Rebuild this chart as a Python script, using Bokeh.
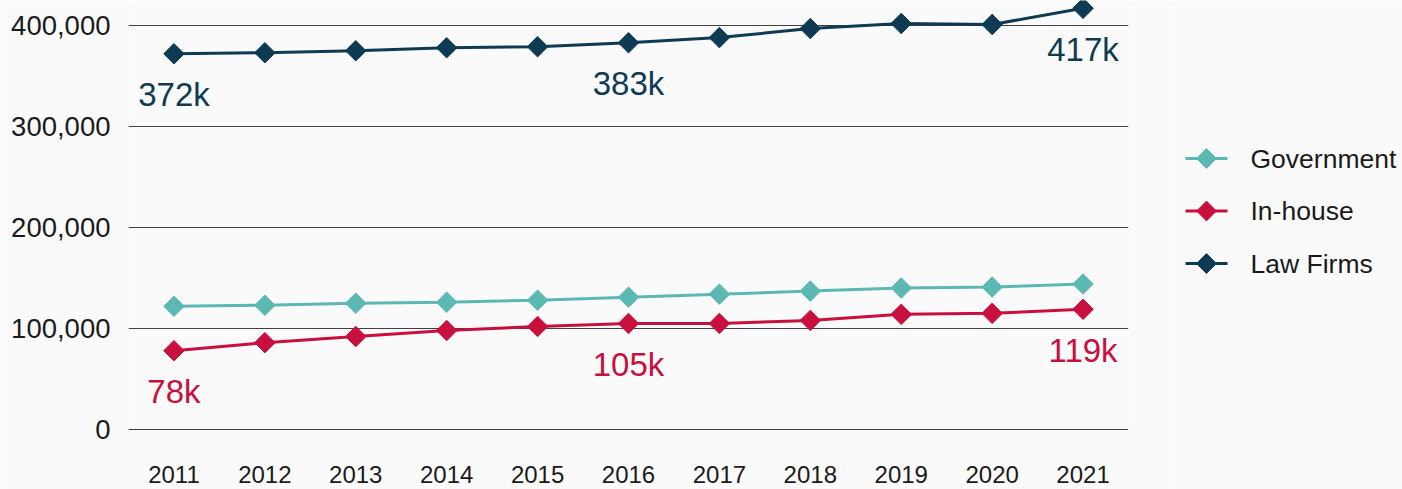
import math
from bokeh.plotting import figure
from bokeh.layouts import row
from bokeh.models import ColumnDataSource, NumeralTickFormatter, FixedTicker, Range1d
from bokeh.core.properties import value
from bokeh.embed import file_html
from bokeh.resources import INLINE

years = [2011, 2012, 2013, 2014, 2015, 2016, 2017, 2018, 2019, 2020, 2021]
government = [122000, 123000, 125000, 126000, 128000, 131000, 134000, 137000, 140000, 141000, 144000]
in_house = [78000, 86000, 92000, 98000, 102000, 105000, 105000, 108000, 114000, 115000, 119000]
law_firms = [372000, 373000, 375000, 378000, 379000, 383000, 388000, 397000, 402000, 401000, 417000]

series_names = ["Government", "In-house", "Law Firms"]
series_colors = ["#5cb8b2", "#c8103e", "#0f3a53"]
label_years = [2011, 2016, 2021]
y_ticks = [0, 100000, 200000, 300000, 400000]

FONT = "Liberation Sans"
BG = "#fafafa"
TXT = "#1a1a1a"

p = figure(width=1170, height=489, output_backend="svg", toolbar_location=None,
           x_range=Range1d(2010.5, 2021.5), y_range=Range1d(-1000, 424750),
           min_border_left=128, min_border_right=42, min_border_top=0, min_border_bottom=59)
p.background_fill_color = BG
p.border_fill_color = BG
p.outline_line_color = None

p.xgrid.grid_line_color = None
p.ygrid.grid_line_color = "#404040"
p.ygrid.grid_line_width = 1
p.yaxis.ticker = FixedTicker(ticks=y_ticks)
p.xaxis.ticker = FixedTicker(ticks=years)
p.yaxis.formatter = NumeralTickFormatter(format="0,0")
for ax in (p.xaxis, p.yaxis):
    ax.axis_line_color = None
    ax.major_tick_line_color = None
    ax.minor_tick_line_color = None
    ax.major_label_text_font = FONT
    ax.major_label_text_color = TXT
p.yaxis.major_label_text_font_size = "27.5px"
p.yaxis.major_label_standoff = 12
p.xaxis.major_label_text_font_size = "24px"
p.xaxis.major_label_standoff = 29

all_series = [government, in_house, law_firms]
for vals, color in zip(all_series, series_colors):
    src = ColumnDataSource(dict(x=years, y=vals))
    p.line("x", "y", source=src, line_color=color, line_width=3)
    p.scatter("x", "y", source=src, marker="square", angle=math.pi / 4, size=14.5,
              fill_color=color, line_color=color)

for vals, color in zip([in_house, law_firms], series_colors[1:]):
    lx = [y for y in years if y in label_years]
    ly = [v for y, v in zip(years, vals) if y in label_years]
    lt = ["%dk" % round(v / 1000) for v in ly]
    p.text(x=lx, y=ly, text=lt, text_color=color, text_font=value(FONT),
           text_font_size="33px", text_align="center", text_baseline="middle", y_offset=41)

# legend panel (drawn as its own small figure so the markers can be diamonds)
lg = figure(frame_width=232, frame_height=489, output_backend="svg", toolbar_location=None,
            x_range=Range1d(0, 232), y_range=Range1d(489, 0),
            x_axis_type=None, y_axis_type=None,
            min_border_left=0, min_border_right=0, min_border_top=0, min_border_bottom=0)
lg.background_fill_color = BG
lg.border_fill_color = BG
lg.outline_line_color = None
n = len(series_names)
ly_pos = [158 + 52.5 * i for i in range(n)]
lg.segment(x0=[15] * n, y0=ly_pos, x1=[57] * n, y1=ly_pos, line_color=series_colors, line_width=3)
lg.scatter(x=[36] * n, y=ly_pos, marker="square", angle=math.pi / 4, size=14,
           fill_color=series_colors, line_color=series_colors)
lg.text(x=[80] * n, y=ly_pos, text=series_names, text_color=TXT, text_font=value(FONT),
        text_font_size="26.5px", text_align="left", text_baseline="middle")

layout = row(p, lg, spacing=0)
open("out.html", "w").write(file_html(layout, INLINE))
